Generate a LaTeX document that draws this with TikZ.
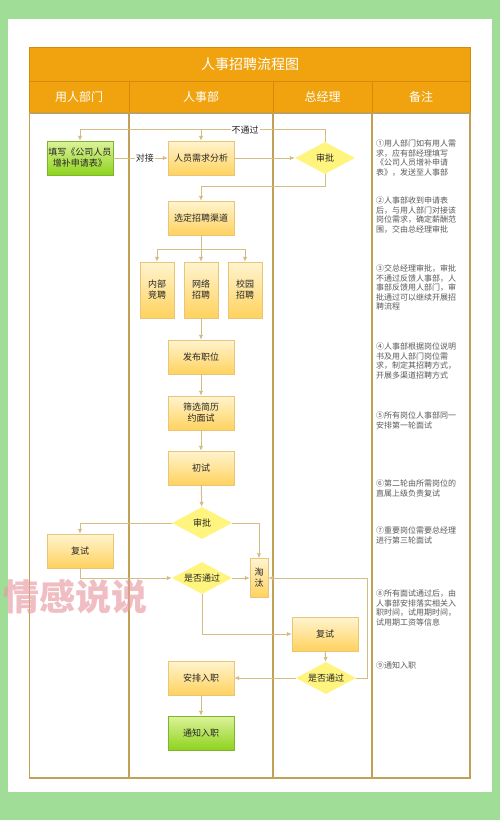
\documentclass[tikz,border=0pt]{standalone}
\usepackage{fontspec}
\setmainfont{Noto Sans CJK SC}
\usetikzlibrary{shapes.geometric,arrows.meta}
\definecolor{bggreen}{HTML}{A0DD96}
\definecolor{headorange}{HTML}{F0A30E}
\definecolor{headline}{HTML}{D88A06}
\definecolor{laneline}{HTML}{C3A056}
\definecolor{flowline}{HTML}{D3BD85}
\definecolor{boxtop}{HTML}{FFF4CF}
\definecolor{boxbottom}{HTML}{FFD25E}
\definecolor{boxdraw}{HTML}{E9C579}
\definecolor{greentop}{HTML}{DDF39A}
\definecolor{greenbottom}{HTML}{8ED21E}
\definecolor{greendraw}{HTML}{7DB52C}
\definecolor{diafill}{HTML}{FFF47E}
\definecolor{notegray}{HTML}{5A5A5A}
\definecolor{markpink}{HTML}{E89AA4}
\begin{document}
\begin{tikzpicture}[x=1pt, y=-1pt,
		stepbox/.style={draw=boxdraw, top color=boxtop, bottom color=boxbottom, minimum width=66pt, minimum height=34pt, inner sep=1pt, align=center, text=black!85, font=\fontsize{9}{11}\selectfont},
		greenbox/.style={stepbox, draw=greendraw, top color=greentop, bottom color=greenbottom},
		tallbox/.style={stepbox, minimum width=34pt, minimum height=56pt},
		decision/.style={diamond, fill=diafill, minimum width=60pt, minimum height=32pt, inner sep=0pt, aspect=1.9, text=black!85, font=\fontsize{9}{11}\selectfont},
		flow/.style={draw=flowline, line width=1pt, -{Latex[length=5pt,width=4.5pt]}},
		tag/.style={fill=white, inner sep=1pt, text=black!85, font=\fontsize{9}{11}\selectfont},
		note/.style={anchor=north west, inner sep=0pt, align=left, text=notegray, font=\fontsize{8}{9.5}\selectfont},
		lane/.style={draw=laneline, line width=1.2pt},
		headtext/.style={text=white, font=\fontsize{12}{14}\selectfont}]
	\useasboundingbox (0,0) rectangle (500,820);
	\fill[bggreen] (0,0) rectangle (500,820);
	\fill[white] (8,19) rectangle (492,792);
	
	% table head
	\filldraw[fill=headorange, draw=headline, line width=1pt] (29.5,47) rectangle (470,81);
	\filldraw[fill=headorange, draw=headline, line width=1pt] (29.5,81) rectangle (470,113);
	\foreach \x in {129,273,372}
		\draw[headline, line width=1pt] (\x,81) -- (\x,113);
	\node[headtext, font=\fontsize{14}{16}\selectfont] (title) at (250,64) {人事招聘流程图};
	\node[headtext] (lane1) at (79,97) {用人部门};
	\node[headtext] (lane2) at (201,97) {人事部};
	\node[headtext] (lane3) at (322.5,97) {总经理};
	\node[headtext] (lane4) at (421,97) {备注};
	
	% table body
	\draw[lane] (29.5,113) rectangle (470,778);
	\foreach \x in {129,273,372}
		\draw[lane] (\x,113) -- (\x,778);
	
	% steps
	\node[greenbox] (apply) at (80,158) {填写《公司人员\\增补申请表》};
	\node[stepbox] (need) at (201,158) {人员需求分析};
	\node[decision] (appr1) at (325,158) {审批};
	\node[stepbox] (chan) at (201,218) {选定招聘渠道};
	\node[tallbox] (inner) at (157,290) {内部\\竞聘};
	\node[tallbox] (web) at (201,290) {网络\\招聘};
	\node[tallbox] (campus) at (245,290) {校园\\招聘};
	\node[stepbox] (post) at (201,357) {发布职位};
	\node[stepbox] (screen) at (201,413) {筛选简历\\约面试};
	\node[stepbox] (first) at (201,468) {初试};
	\node[decision] (appr2) at (202,523) {审批};
	\node[stepbox] (retest1) at (80,551) {复试};
	\node[decision] (pass1) at (202,578) {是否通过};
	\node[stepbox, minimum width=18pt, minimum height=39pt, inner sep=0pt] (elim) at (259,578) {淘\\汰};
	\node[stepbox] (retest2) at (325,634) {复试};
	\node[decision] (pass2) at (326,678) {是否通过};
	\node[stepbox] (arrange) at (201,678) {安排入职};
	\node[greenbox] (notify) at (201,733) {通知入职};
	
	% connectors
	\draw[flow] (apply) -- node[tag, pos=0.58] (dock) {对接} (need);
	\draw[flow] (need) -- (appr1);
	\draw[flow] (appr1.north) -- ++(0,-12) coordinate (back) -| (apply.north);
	\draw[flow] (need.north |- back) -- (need.north);
	\node[tag] (nopass) at (245,130) {不通过};
	\draw[flow] (appr1.south) -- ++(0,12) -| (chan.north);
	\draw[flow] (chan.south) -- ++(0,14) coordinate (split) -| (inner.north);
	\draw[flow] (split) -| (campus.north);
	\draw[flow] (split) -- (web.north);
	\draw[flow] (web) -- (post);
	\draw[flow] (post) -- (screen);
	\draw[flow] (screen) -- (first);
	\draw[flow] (first) -- (appr2);
	\draw[flow] (appr2.west) -| (retest1.north);
	\draw[flow] (appr2.east) -| (elim.north);
	\draw[flow] (retest1.south) |- (pass1.west);
	\draw[flow] (pass1) -- (elim);
	\draw[flow] (pass1.south) |- (retest2.west);
	\draw[flow] (retest2) -- (pass2);
	\draw[flow] (pass2.east) -- ++(11,0) |- (elim.east);
	\draw[flow] (pass2) -- (arrange);
	\draw[flow] (arrange) -- (notify);
	
	% notes
	\node[note] (note1) at (376,140) {①用人部门如有用人需\\求，应有部经理填写\\《公司人员增补申请\\表》，发送至人事部};
	\node[note] (note2) at (376,197) {②人事部收到申请表\\后，与用人部门对接该\\岗位需求，确定薪酬范\\围，交由总经理审批};
	\node[note] (note3) at (376,265) {③交总经理审批，审批\\不通过反馈人事部，人\\事部反馈用人部门，审\\批通过可以继续开展招\\聘流程};
	\node[note] (note4) at (376,343) {④人事部根据岗位说明\\书及用人部门岗位需\\求，制定其招聘方式，\\开展多渠道招聘方式};
	\node[note] (note5) at (376,412) {⑤所有岗位人事部同一\\安排第一轮面试};
	\node[note] (note6) at (376,480) {⑥第二轮由所需岗位的\\直属上级负责复试};
	\node[note] (note7) at (376,527) {⑦重要岗位需要总经理\\进行第三轮面试};
	\node[note] (note8) at (376,590) {⑧所有面试通过后，由\\人事部安排落实相关入\\职时间，试用期时间，\\试用期工资等信息};
	\node[note] (note9) at (376,662) {⑨通知入职};
	
	\node[text=markpink, opacity=0.65, font=\fontsize{36}{38}\selectfont\bfseries] (mark) at (76,597) {情感说说};
\end{tikzpicture}
\end{document}
